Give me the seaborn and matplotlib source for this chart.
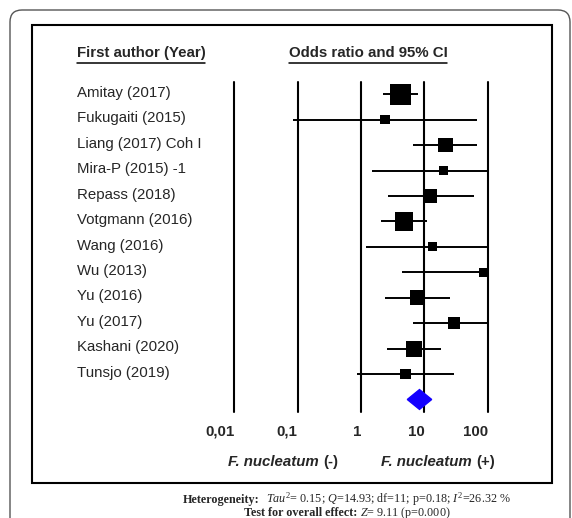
import matplotlib
matplotlib.use("Agg")
import matplotlib.pyplot as plt
import matplotlib.patches as patches
import matplotlib.transforms as mtransforms
from matplotlib.lines import Line2D
from matplotlib.ticker import NullLocator
import pandas as pd
import seaborn as sns
import numpy as np

# study data
studies = ["Amitay (2017)", "Fukugaiti (2015)", "Liang (2017) Coh I", "Mira-P (2015) -1",
           "Repass (2018)", "Votgmann (2016)", "Wang (2016)", "Wu (2013)",
           "Yu (2016)", "Yu (2017)", "Kashani (2020)", "Tunsjo (2019)"]
odds = [4.17, 2.39, 21.6, 20.2, 12.6, 4.77, 13.6, 86.5, 7.8, 29.6, 6.8, 5.0]
lower = [2.2, 0.085, 6.7, 1.47, 2.7, 2.07, 1.2, 4.49, 2.39, 6.7, 2.54, 0.855]
upper = [8.0, 68.6, 68.6, 100, 60.8, 10.9, 100, 100, 25.4, 100, 18.1, 29.4]
weights = [19.2, 3.9, 9.2, 3.9, 7.9, 15.7, 3.6, 3.9, 10.1, 6.1, 11.5, 5.1]

# pooled estimate
pooled = [5.38, 8.38, 13.06]  # lower, OR, upper

ticks = [0.01, 0.1, 1, 10, 100]
tick_labels = ["0,01", "0,1", "1", "10", "100"]

tau2, q_stat, df_het, p_het, i2 = 0.15, 14.93, 11, 0.18, 26.32
z_stat, p_overall = 9.11, "0.000"

df = pd.DataFrame({"study": studies, "odds": odds, "lower": lower,
                   "upper": upper, "weight": weights})
df["row"] = np.arange(len(df))

sns.set_style("white")
plt.rcParams['font.family'] = ['Liberation Sans', 'DejaVu Sans']
plt.rcParams['mathtext.fontset'] = 'custom'
plt.rcParams['mathtext.rm'] = 'Liberation Serif'
plt.rcParams['mathtext.it'] = 'Liberation Serif:italic'
plt.rcParams['mathtext.bf'] = 'Liberation Serif:bold'

W, H = 572, 518
fig = plt.figure(figsize=(W / 100, H / 100), dpi=100)
ax = fig.add_axes([234.3 / W, 1 - 412.2 / H, 253.4 / W, 330.6 / H])
ax.set_xscale("log")
ax.set_xlim(0.01, 100)
ax.set_ylim(12.5, -0.5)

for t in ticks:
    ax.axvline(t, color="black", lw=1.5, zorder=1, clip_on=False)

ax.hlines(df["row"], df["lower"], df["upper"], color="black", lw=1.4, zorder=2, clip_on=False)

wmin, wmax = min(weights), max(weights)
k = 11.56  # area (pt^2) per weight unit
sns.scatterplot(data=df, x="odds", y="row", size="weight", sizes=(wmin * k, wmax * k),
                size_norm=(wmin, wmax), marker="s", color="black", edgecolor="none",
                linewidth=0, legend=False, ax=ax, zorder=3, clip_on=False)

# pooled diamond
yd = len(studies)
ax.fill([pooled[0], pooled[1], pooled[2], pooled[1]], [yd, yd - 0.39, yd, yd + 0.39],
        color="#1400ff", zorder=4, clip_on=False)

ax.set_xticks(ticks)
ax.xaxis.set_minor_locator(NullLocator())
ax.set_xticklabels(tick_labels, fontweight="bold", ha="right", fontsize=10.8)
ax.tick_params(axis="x", length=0, pad=8.9)
ax.set_yticks([])
ax.set_xlabel("")
ax.set_ylabel("")
for s in ax.spines.values():
    s.set_visible(False)

# study labels
trans = mtransforms.blended_transform_factory(fig.transFigure, ax.transData)
for i, name in enumerate(studies):
    ax.text(77 / W, i - 0.05, name, transform=trans, ha="left", va="center", fontsize=10.8)

# headers
h1 = fig.text(76.7 / W, 1 - 53 / H, "First author (Year)", fontweight="bold",
              fontsize=10.8, ha="left", va="center")
h2 = fig.text(368 / W, 1 - 53 / H, "Odds ratio and 95% CI", fontweight="bold",
              fontsize=10.8, ha="center", va="center")

# axis side labels
yb = 1 - 466 / H
fig.text(319 / W, yb, "F. nucleatum", fontweight="bold", style="italic", fontsize=10.8,
         ha="right", va="baseline")
fig.text(323 / W, yb, "(-)", fontweight="bold", fontsize=10.8, ha="left", va="baseline")
fig.text(472 / W, yb, "F. nucleatum", fontweight="bold", style="italic", fontsize=10.8,
         ha="right", va="baseline")
fig.text(476 / W, yb, "(+)", fontweight="bold", fontsize=10.8, ha="left", va="baseline")

# boxes
fig.add_artist(patches.FancyBboxPatch((0.1, -0.2), 5.6, 5.28,
                                      boxstyle="round,pad=0,rounding_size=0.12",
                                      transform=fig.dpi_scale_trans, fill=False,
                                      edgecolor="#555555", lw=1.0))
fig.add_artist(patches.Rectangle((0.323, H / 100 - 4.827), 5.517 - 0.323, 4.827 - 0.25,
                                 transform=fig.dpi_scale_trans, fill=False,
                                 edgecolor="black", lw=1.5))

# footer: bold caption + normal text with italic symbols, laid out as one centred line
het_rest = ("  $Tau^2$= " + f"{tau2}; " + "$Q$=" + f"{q_stat}; df={df_het}; "
            f"p={p_het}; " + "$I^2$=" + f"{i2} %")
ove_rest = " $Z$= " + f"{z_stat} (p={p_overall})"
footer = [("Heterogeneity:", het_rest, 500), ("Test for overall effect:", ove_rest, 513)]

fig.canvas.draw()
r = fig.canvas.get_renderer()
for bold_txt, rest_txt, ypx in footer:
    t1 = fig.text(0, 1 - ypx / H, bold_txt, fontweight="bold", fontsize=8.7,
                  fontfamily="Liberation Serif", ha="left", va="baseline")
    t2 = fig.text(0, 1 - ypx / H, rest_txt, fontsize=8.7,
                  fontfamily="Liberation Serif", ha="left", va="baseline")
    w1 = t1.get_window_extent(r).width
    w2 = t2.get_window_extent(r).width
    x0 = 347 - (w1 + w2) / 2
    t1.set_x(x0 / W)
    t2.set_x((x0 + w1) / W)
    t1.set_y(1 - (ypx + 3) / H)
    t2.set_y(1 - (ypx + 3) / H)

# underline headers
for h in (h1, h2):
    bb = h.get_window_extent(r).transformed(fig.transFigure.inverted())
    yu = 1 - 62.7 / H
    fig.add_artist(Line2D([bb.x0, bb.x1], [yu, yu], transform=fig.transFigure,
                          color="black", lw=1.1))

fig.savefig("out.png", dpi=100)
